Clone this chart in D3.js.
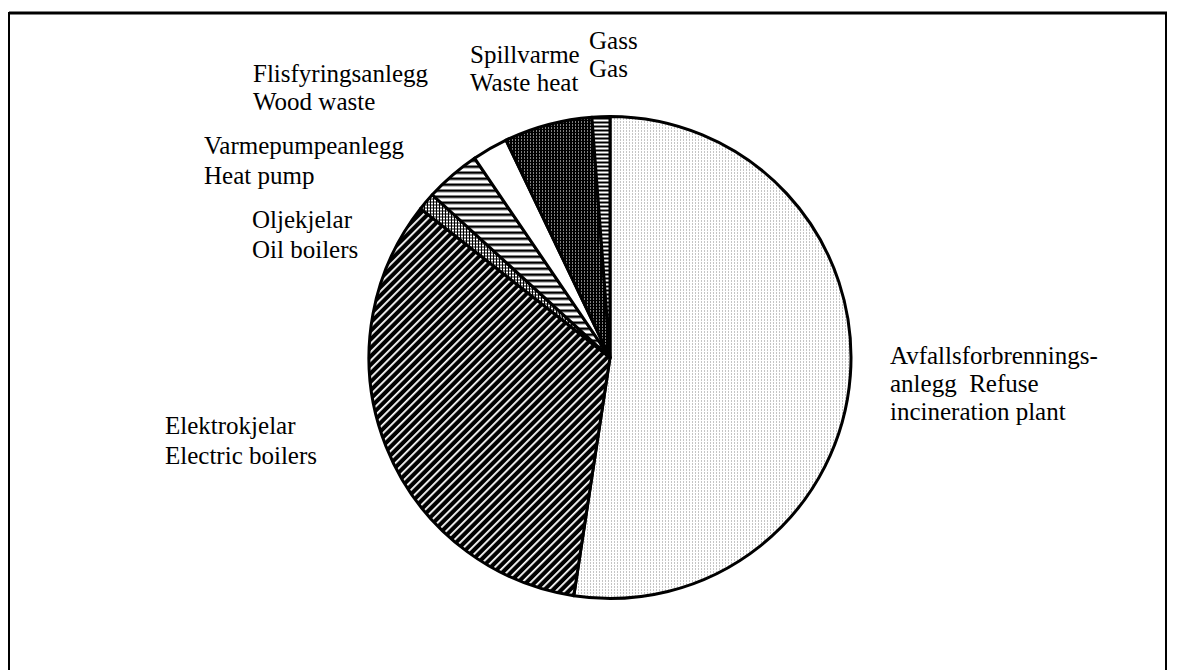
<!DOCTYPE html>
<html>
<head>
<meta charset="utf-8">
<script src="https://cdn.jsdelivr.net/npm/d3@7"></script>
<style>
  body { margin: 0; background: #fff; }
  svg { display: block; }
  text { font-family: "Liberation Serif", "Times New Roman", serif; font-size: 25px; fill: #000; }
</style>
</head>
<body>
<div id="chart"></div>
<script>
// shares (%), clockwise from 12 o'clock
var sources = ["refuse", "electric", "oil", "heatpump", "wood", "wasteheat", "gas"];
var shares  = [52.4, 33.2, 1.2, 3.7, 2.4, 5.9, 1.2];

// label lines per slice
var labelLines = [
    ["Avfallsforbrennings-", "anlegg  Refuse", "incineration plant"],
    ["Elektrokjelar", "Electric boilers"],
    ["Oljekjelar", "Oil boilers"],
    ["Varmepumpeanlegg", "Heat pump"],
    ["Flisfyringsanlegg", "Wood waste"],
    ["Spillvarme", "Waste heat"],
    ["Gass", "Gas"]
];

var width = 1180, height = 670;
var cx = 610, cy = 357.5, radius = 241;

var svg = d3.select("#chart")
    .append("svg")
    .attr("width", width)
    .attr("height", height);

var defs = svg.append("defs");

// -- patterns ----------------------------
function makePattern(id, w, h, draw, transform) {
    var p = defs.append("pattern")
        .attr("id", id)
        .attr("patternUnits", "userSpaceOnUse")
        .attr("width", w)
        .attr("height", h);
    if (transform) p.attr("patternTransform", transform);
    draw(p);
}

makePattern("p-refuse", 3, 3, function(p) {
    p.append("rect").attr("width", 3).attr("height", 3).attr("fill", "#fff");
    p.append("rect").attr("x", 1).attr("y", 1).attr("width", 1).attr("height", 1).attr("fill", "#8a8a8a");
});
makePattern("p-electric", 6, 6, function(p) {
    p.append("rect").attr("width", 6).attr("height", 6).attr("fill", "#000");
    p.append("rect").attr("width", 6).attr("height", 1.8).attr("fill", "#fff");
}, "rotate(-45)");
makePattern("p-oil", 3, 3, function(p) {
    p.append("rect").attr("width", 3).attr("height", 3).attr("fill", "#fff");
    p.append("rect").attr("width", 3).attr("height", 1).attr("fill", "#000");
    p.append("rect").attr("width", 1).attr("height", 3).attr("fill", "#000");
});
makePattern("p-heatpump", 6, 6, function(p) {
    p.append("rect").attr("width", 6).attr("height", 6).attr("fill", "#fff");
    p.append("rect").attr("width", 6).attr("height", 2.5).attr("fill", "#000");
});
makePattern("p-wood", 4, 4, function(p) {
    p.append("rect").attr("width", 4).attr("height", 4).attr("fill", "#fff");
});
makePattern("p-wasteheat", 3, 3, function(p) {
    p.append("rect").attr("width", 3).attr("height", 3).attr("fill", "#000");
    p.append("rect").attr("x", 1).attr("y", 1).attr("width", 1).attr("height", 1).attr("fill", "#fff");
});
makePattern("p-gas", 4, 4, function(p) {
    p.append("rect").attr("width", 4).attr("height", 4).attr("fill", "#fff");
    p.append("rect").attr("width", 4).attr("height", 2).attr("fill", "#000");
});

// -- frame ----------------------------
var frame = svg.append("g").attr("stroke", "#000").attr("fill", "none");
frame.append("line").attr("x1", 9).attr("y1", 13).attr("x2", 1167).attr("y2", 13).attr("stroke-width", 3);
frame.append("line").attr("x1", 9).attr("y1", 12).attr("x2", 9).attr("y2", height).attr("stroke-width", 2);
frame.append("line").attr("x1", 1166).attr("y1", 12).attr("x2", 1166).attr("y2", height).attr("stroke-width", 2);

// -- pie ----------------------------
var data = sources.map(function(s, i) { return { id: s, value: shares[i], lines: labelLines[i] }; });

var pie = d3.pie()
    .sort(null)
    .value(function(d) { return d.value; });

var arc = d3.arc()
    .innerRadius(0)
    .outerRadius(radius);

var g = svg.append("g")
    .attr("transform", "translate(" + cx + "," + cy + ")");

g.selectAll("path")
    .data(pie(data))
    .enter()
    .append("path")
    .attr("d", arc)
    .attr("fill", function(d) { return "url(#p-" + d.data.id + ")"; })
    .attr("stroke", "#000")
    .attr("stroke-width", 3)
    .attr("stroke-linejoin", "round");

// -- labels ----------------------------
// left x, first baseline, line step
var labelPos = {
    refuse:    [890, 364, 28],
    electric:  [165, 434, 30],
    oil:       [252, 228, 30],
    heatpump:  [204, 154, 30],
    wood:      [253, 82, 28],
    wasteheat: [470, 63, 28],
    gas:       [589, 49, 28]
};

data.forEach(function(d) {
    var pos = labelPos[d.id];
    var t = svg.append("text")
        .attr("x", pos[0])
        .attr("y", pos[1]);
    d.lines.forEach(function(line, i) {
        t.append("tspan")
            .attr("x", pos[0])
            .attr("y", pos[1] + i * pos[2])
            .attr("xml:space", "preserve")
            .text(line);
    });
});
</script>
</body>
</html>
